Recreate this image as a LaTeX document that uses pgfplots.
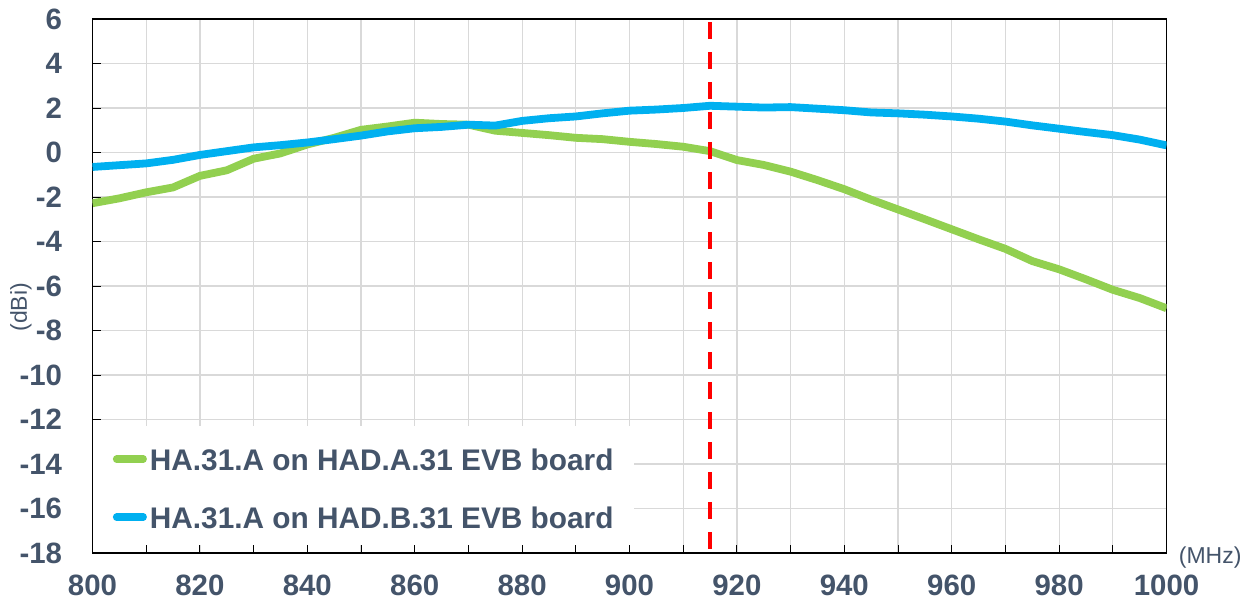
\documentclass[border=0pt]{standalone}
\usepackage{fontspec}
\setmainfont{Liberation Sans}
\usepackage{pgfplots}
\pgfplotsset{compat=1.18}

\definecolor{gcurve}{HTML}{92D050}
\definecolor{bcurve}{HTML}{00B0F0}
\definecolor{txt}{HTML}{44546A}
\definecolor{gridc}{HTML}{D9D9D9}

\begin{document}
\begin{tikzpicture}
\begin{axis}[
  scale only axis,
  width=537pt, height=267pt,
  xmin=800, xmax=1000,
  ymin=-18, ymax=6,
  xtick distance=20,
  minor x tick num=1,
  ytick distance=2,
  tick align=inside,
  major tick length=4pt,
  minor tick length=4pt,
  tick style={black, line width=0.5pt},
  xtick pos=bottom, ytick pos=left,
  axis line style={black, line width=0.8pt},
  grid=both,
  major grid style={gridc, line width=0.6pt},
  minor grid style={gridc, line width=0.6pt},
  /pgf/number format/assume math mode=true,
  /pgf/number format/1000 sep={},
  tick label style={font=\bfseries\fontsize{14.7}{14.7}\selectfont, text=txt, inner sep=0pt},
  yticklabel style={anchor=east, xshift=-15pt},
  xticklabel style={anchor=north, yshift=-10.8pt},
  ylabel={(dBi)},
  ylabel style={at={(rel axis cs:0,0.46)}, anchor=center, yshift=35.75pt,
    font=\fontsize{11.5}{11.5}\selectfont, text=txt, inner sep=0pt},
  xlabel={(MHz)},
  xlabel style={at={(rel axis cs:1,0)}, anchor=west, xshift=6pt, yshift=-2.5pt,
    font=\fontsize{11.5}{11.5}\selectfont, text=txt, inner sep=0pt},
  legend cell align=left,
  legend style={at={(0,0.2378)}, anchor=north west, draw=none, fill=white,
    inner xsep=10pt, inner ysep=8pt, row sep=14.75pt, column sep=1.5pt,
    nodes={inner sep=0pt, text height=14.25pt, text depth=0pt,
      font=\bfseries\fontsize{14.9}{14.9}\selectfont, text=txt}},
  legend image code/.code={\draw[#1, line width=3.6pt, line cap=round] (1.8pt,-1.2pt) -- (15.2pt,-1.2pt);},
]

\addplot[gcurve, line width=3.9pt, line join=round] coordinates {
  (800,-2.28) (805,-2.06) (810,-1.79) (815,-1.57) (820,-1.05) (825,-0.8)
  (830,-0.28) (835,-0.04) (840,0.36) (845,0.66) (850,1.02) (855,1.17)
  (860,1.34) (865,1.28) (870,1.25) (875,0.98) (880,0.88) (885,0.78)
  (890,0.66) (895,0.6) (900,0.48) (905,0.38) (910,0.26) (915,0.06)
  (920,-0.34) (925,-0.56) (930,-0.86) (935,-1.24) (940,-1.65) (945,-2.12)
  (950,-2.56) (955,-3.0) (960,-3.45) (965,-3.9) (970,-4.33) (975,-4.88)
  (980,-5.25) (985,-5.7) (990,-6.17) (995,-6.54) (1000,-7.0)
};
\addlegendentry{HA.31.A on HAD.A.31 EVB board}

\addplot[bcurve, line width=3.9pt, line join=round] coordinates {
  (800,-0.65) (805,-0.57) (810,-0.49) (815,-0.33) (820,-0.11) (825,0.06)
  (830,0.23) (835,0.33) (840,0.45) (845,0.6) (850,0.76) (855,0.95)
  (860,1.09) (865,1.15) (870,1.25) (875,1.21) (880,1.42) (885,1.54)
  (890,1.62) (895,1.76) (900,1.88) (905,1.93) (910,2.0) (915,2.1)
  (920,2.06) (925,2.02) (930,2.04) (935,1.97) (940,1.9) (945,1.8)
  (950,1.76) (955,1.7) (960,1.62) (965,1.52) (970,1.39) (975,1.22)
  (980,1.07) (985,0.92) (990,0.78) (995,0.58) (1000,0.32)
};
\addlegendentry{HA.31.A on HAD.B.31 EVB board}

\addplot[red, line width=2pt, dash pattern=on 8.5pt off 6.5pt, dash phase=-1.5pt, forget plot]
  coordinates {(915,6) (915,-18)};

\coordinate (sw) at (rel axis cs:0,0);
\coordinate (ne) at (rel axis cs:1,1);
\end{axis}
\pgfresetboundingbox
\path[use as bounding box] ([shift={(-46.25pt,-23.5pt)}]sw) rectangle ([shift={(43.25pt,9.5pt)}]ne);
\end{tikzpicture}
\end{document}
